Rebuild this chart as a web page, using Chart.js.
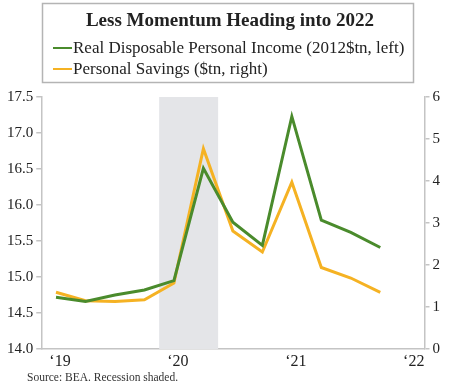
<!DOCTYPE html>
<html>
<head>
<meta charset="utf-8">
<script src="https://cdn.jsdelivr.net/npm/chart.js@4.4.1/dist/chart.umd.min.js"></script>
<style>
  body { margin: 0; background: #fff; }
  #wrap { width: 450px; height: 386px; }
</style>
</head>
<body>
<div id="wrap"><canvas id="chart"></canvas></div>
<script>
// quarters on the x axis (last one only carries the '22 tick)
const quarters = ['2019 Q1', '2019 Q2', '2019 Q3', '2019 Q4',
                  '2020 Q1', '2020 Q2', '2020 Q3', '2020 Q4',
                  '2021 Q1', '2021 Q2', '2021 Q3', '2021 Q4', '2022 Q1'];
const yearLabels = ['\u201819', '\u201820', '\u201821', '\u201822'];

// real disposable personal income, 2012$tn (left axis)
const income = [14.72, 14.66, 14.75, 14.82, 14.95, 16.51, 15.76, 15.44, 17.23, 15.79, 15.62, 15.41, null];
// personal savings, $tn (right axis)
const savings = [1.35, 1.15, 1.13, 1.17, 1.57, 4.77, 2.81, 2.31, 3.97, 1.94, 1.69, 1.35, null];

// recession quarters (shaded)
const recession = ['2020 Q1', '2020 Q2'];

const chartTitle = 'Less Momentum Heading into 2022';
const sourceNote = 'Source: BEA. Recession shaded.';

const serif = '"Liberation Serif", "DejaVu Serif", serif';
const textColor = '#222';
const axisColor = '#c4c4c4';

const recessionShade = {
  id: 'recessionShade',
  beforeDatasetsDraw(chart) {
    const x = chart.scales.x;
    const area = chart.chartArea;
    const half = (x.getPixelForValue(1) - x.getPixelForValue(0)) / 2;
    const x0 = x.getPixelForValue(quarters.indexOf(recession[0])) - half;
    const x1 = x.getPixelForValue(quarters.indexOf(recession[1])) + half;
    const ctx = chart.ctx;
    ctx.save();
    ctx.fillStyle = '#e4e5e8';
    ctx.fillRect(x0, area.top, x1 - x0, area.bottom - area.top);
    ctx.restore();
  }
};

// title + legend inside a bordered box, and the source line
const headerBox = {
  id: 'headerBox',
  afterDraw(chart) {
    const ctx = chart.ctx;
    ctx.save();
    ctx.strokeStyle = '#b4b4b4';
    ctx.lineWidth = 1.5;
    ctx.strokeRect(42.5, 3.5, 371, 79);

    ctx.fillStyle = textColor;
    ctx.font = 'bold 19px ' + serif;
    ctx.textAlign = 'center';
    ctx.textBaseline = 'middle';
    ctx.fillText(chartTitle, 230, 21);

    ctx.font = '17px ' + serif;
    ctx.textAlign = 'left';
    chart.data.datasets.forEach(function(ds, i) {
      const y = 48 + i * 21;
      ctx.strokeStyle = ds.borderColor;
      ctx.lineWidth = 2;
      ctx.beginPath();
      ctx.moveTo(53, y);
      ctx.lineTo(72, y);
      ctx.stroke();
      ctx.fillText(ds.label, 73, y + 1);
    });

    ctx.font = '11.5px ' + serif;
    ctx.fillStyle = '#333';
    ctx.fillText(sourceNote, 27, 378);
    ctx.restore();
  }
};

const ctx = document.getElementById('chart').getContext('2d');
const chart = new Chart(ctx, {
  type: 'line',
  data: {
    labels: quarters,
    datasets: [{
      label: 'Real Disposable Personal Income (2012$tn, left)',
      data: income,
      borderColor: '#4a8b2c',
      backgroundColor: '#4a8b2c',
      borderWidth: 3,
      pointRadius: 0,
      tension: 0,
      yAxisID: 'y'
    }, {
      label: 'Personal Savings ($tn, right)',
      data: savings,
      borderColor: '#f5b223',
      backgroundColor: '#f5b223',
      borderWidth: 3,
      pointRadius: 0,
      tension: 0,
      yAxisID: 'y1'
    }]
  },
  options: {
    responsive: true,
    maintainAspectRatio: false,
    animation: false,
    layout: { padding: { top: 97, bottom: 11, left: 4, right: 7 } },
    plugins: {
      legend: { display: false },
      title: { display: false },
      tooltip: { enabled: false }
    },
    scales: {
      x: {
        offset: true,
        grid: { display: false, drawTicks: false },
        border: { display: true, color: axisColor, width: 1.5 },
        ticks: {
          autoSkip: false,
          maxRotation: 0,
          padding: 5,
          labelOffset: 4,
          color: textColor,
          font: { family: serif, size: 16, lineHeight: 1 },
          callback: function(value) {
            const q = quarters[value];
            if (q.endsWith('Q1')) return yearLabels[Math.floor(value / 4)];
            return '';
          }
        }
      },
      y: {
        position: 'left',
        min: 14,
        max: 17.5,
        grid: { drawOnChartArea: false, drawTicks: true, tickLength: 5, color: axisColor, lineWidth: 1.5 },
        border: { display: true, color: axisColor, width: 1.5 },
        ticks: {
          stepSize: 0.5,
          padding: 3,
          color: textColor,
          font: { family: serif, size: 15 },
          callback: function(value) { return value.toFixed(1); }
        }
      },
      y1: {
        position: 'right',
        min: 0,
        max: 6,
        grid: { drawOnChartArea: false, drawTicks: true, tickLength: 5, color: axisColor, lineWidth: 1.5 },
        border: { display: true, color: axisColor, width: 1.5 },
        ticks: {
          stepSize: 1,
          padding: 3,
          color: textColor,
          font: { family: serif, size: 15 }
        }
      }
    }
  },
  plugins: [recessionShade, headerBox]
});
</script>
</body>
</html>
